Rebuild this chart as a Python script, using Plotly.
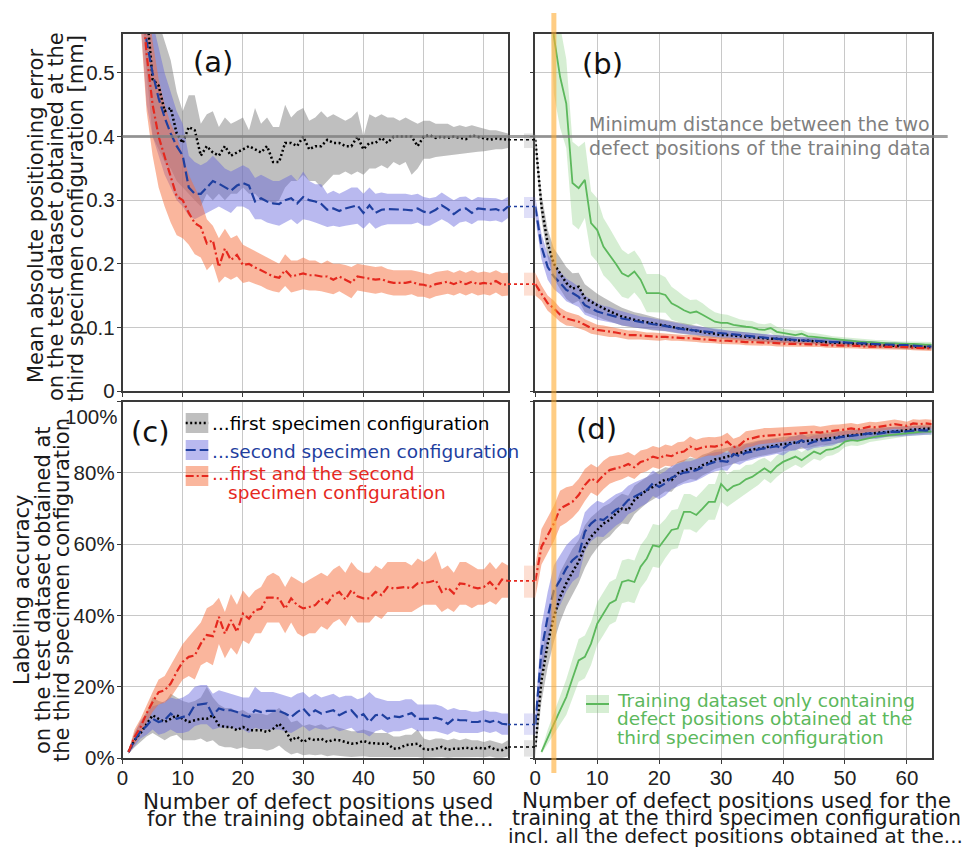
import plotly.graph_objects as go

W, H = 969, 851

# ---------------- data ----------------
N_AC = list(range(1, 65))      # panels (a), (c): defect positions from 1st/2nd configuration
N_BD = list(range(1, 65))      # panels (b), (d): added defect positions of 3rd configuration
MIN_DISTANCE = 0.4             # mm
HIGHLIGHT_N = 3
X_TICKS = [0, 10, 20, 30, 40, 50, 60]
Y_TICKS_A = [0, 0.1, 0.2, 0.3, 0.4, 0.5]
Y_TICKTEXT_A = ["0", "0.1", "0.2", "0.3", "0.4", "0.5"]
Y_TICKS_C = [0, 20, 40, 60, 80, 100]
Y_TICKTEXT_C = ["0%", "20%", "40%", "60%", "80%", ""]

# (a) mean absolute positioning error [mm]
A_FIRST = [1.00, 0.85, 0.70, 0.60, 0.49, 0.48, 0.44, 0.445, 0.405, 0.39,
           0.415, 0.41, 0.37, 0.385, 0.375, 0.37, 0.385, 0.37, 0.375, 0.38,
           0.385, 0.38, 0.375, 0.385, 0.36, 0.36, 0.39, 0.39, 0.385, 0.40,
           0.38, 0.385, 0.385, 0.395, 0.39, 0.39, 0.385, 0.385, 0.40, 0.38,
           0.39, 0.39, 0.398, 0.39, 0.40, 0.40, 0.40, 0.40, 0.385, 0.40,
           0.402, 0.398, 0.40, 0.398, 0.40, 0.398, 0.396, 0.402, 0.40, 0.398,
           0.395, 0.397, 0.396, 0.395]
A_FIRST_UP = [1.10, 0.95, 0.80, 0.70, 0.62, 0.58, 0.55, 0.52, 0.47, 0.44,
              0.465, 0.465, 0.42, 0.435, 0.44, 0.415, 0.43, 0.42, 0.425, 0.43,
              0.41, 0.445, 0.42, 0.43, 0.415, 0.415, 0.45, 0.43, 0.44, 0.445,
              0.425, 0.43, 0.44, 0.43, 0.435, 0.43, 0.425, 0.43, 0.44, 0.40,
              0.435, 0.43, 0.435, 0.43, 0.43, 0.425, 0.43, 0.425, 0.42, 0.425,
              0.425, 0.42, 0.42, 0.42, 0.415, 0.418, 0.415, 0.418, 0.415, 0.412,
              0.41, 0.41, 0.408, 0.405]
A_FIRST_LO = [0.90, 0.75, 0.60, 0.50, 0.40, 0.38, 0.36, 0.35, 0.33, 0.32,
              0.31, 0.30, 0.29, 0.31, 0.30, 0.31, 0.30, 0.31, 0.31, 0.32,
              0.31, 0.31, 0.30, 0.30, 0.295, 0.30, 0.32, 0.33, 0.33, 0.34,
              0.33, 0.33, 0.32, 0.33, 0.34, 0.34, 0.345, 0.34, 0.345, 0.34,
              0.35, 0.35, 0.355, 0.35, 0.36, 0.355, 0.36, 0.34, 0.35, 0.365,
              0.365, 0.368, 0.37, 0.37, 0.372, 0.373, 0.374, 0.375, 0.376, 0.377,
              0.378, 0.38, 0.38, 0.382]
A_SECOND = [0.95, 0.80, 0.66, 0.55, 0.50, 0.46, 0.43, 0.405, 0.385, 0.37,
            0.32, 0.31, 0.31, 0.32, 0.33, 0.326, 0.32, 0.315, 0.323, 0.327,
            0.323, 0.298, 0.303, 0.298, 0.295, 0.294, 0.30, 0.303, 0.295, 0.305,
            0.30, 0.298, 0.294, 0.285, 0.287, 0.283, 0.287, 0.29, 0.292, 0.28,
            0.292, 0.28, 0.285, 0.286, 0.286, 0.286, 0.285, 0.284, 0.287, 0.282,
            0.28, 0.285, 0.292, 0.286, 0.278, 0.285, 0.287, 0.28, 0.287, 0.286,
            0.285, 0.286, 0.282, 0.29]
A_SECOND_UP = [1.05, 0.90, 0.76, 0.65, 0.58, 0.54, 0.50, 0.47, 0.44, 0.42,
               0.37, 0.36, 0.355, 0.36, 0.37, 0.36, 0.35, 0.345, 0.35, 0.355,
               0.35, 0.335, 0.34, 0.335, 0.33, 0.33, 0.335, 0.34, 0.33, 0.345,
               0.33, 0.325, 0.325, 0.31, 0.315, 0.31, 0.315, 0.32, 0.32, 0.31,
               0.32, 0.31, 0.312, 0.31, 0.31, 0.31, 0.31, 0.308, 0.31, 0.305,
               0.303, 0.305, 0.312, 0.306, 0.30, 0.305, 0.306, 0.30, 0.305, 0.304,
               0.303, 0.303, 0.30, 0.305]
A_SECOND_LO = [0.85, 0.70, 0.56, 0.45, 0.40, 0.37, 0.34, 0.32, 0.30, 0.29,
               0.275, 0.27, 0.275, 0.28, 0.285, 0.29, 0.285, 0.28, 0.29, 0.29,
               0.285, 0.27, 0.27, 0.265, 0.262, 0.26, 0.265, 0.27, 0.262, 0.27,
               0.268, 0.265, 0.262, 0.258, 0.26, 0.258, 0.26, 0.262, 0.263, 0.255,
               0.265, 0.255, 0.26, 0.262, 0.262, 0.263, 0.262, 0.262, 0.265, 0.26,
               0.26, 0.265, 0.27, 0.265, 0.258, 0.265, 0.267, 0.262, 0.268, 0.268,
               0.267, 0.268, 0.265, 0.272]
A_BOTH = [0.95, 0.80, 0.65, 0.53, 0.45, 0.40, 0.37, 0.337, 0.306, 0.30,
          0.28, 0.264, 0.258, 0.232, 0.237, 0.195, 0.224, 0.206, 0.214, 0.198,
          0.20, 0.194, 0.19, 0.185, 0.18, 0.178, 0.19, 0.18, 0.182, 0.185,
          0.182, 0.182, 0.18, 0.18, 0.175, 0.18, 0.175, 0.17, 0.18, 0.178,
          0.177, 0.175, 0.176, 0.172, 0.17, 0.17, 0.17, 0.172, 0.168, 0.167,
          0.164, 0.168, 0.17, 0.172, 0.168, 0.172, 0.168, 0.172, 0.168, 0.17,
          0.168, 0.173, 0.167, 0.168]
A_BOTH_UP = [1.05, 0.90, 0.75, 0.63, 0.55, 0.49, 0.45, 0.42, 0.40, 0.37,
             0.34, 0.32, 0.30, 0.27, 0.26, 0.24, 0.255, 0.24, 0.245, 0.23,
             0.225, 0.22, 0.215, 0.21, 0.205, 0.20, 0.215, 0.205, 0.205, 0.21,
             0.205, 0.205, 0.20, 0.205, 0.20, 0.20, 0.198, 0.195, 0.20, 0.198,
             0.197, 0.195, 0.196, 0.192, 0.19, 0.19, 0.19, 0.19, 0.188, 0.186,
             0.183, 0.187, 0.188, 0.19, 0.186, 0.19, 0.186, 0.19, 0.186, 0.188,
             0.186, 0.19, 0.185, 0.186]
A_BOTH_LO = [0.85, 0.70, 0.55, 0.44, 0.37, 0.32, 0.29, 0.265, 0.245, 0.24,
             0.23, 0.215, 0.21, 0.19, 0.20, 0.17, 0.18, 0.175, 0.18, 0.17,
             0.172, 0.168, 0.165, 0.16, 0.157, 0.155, 0.165, 0.155, 0.158, 0.16,
             0.158, 0.158, 0.157, 0.155, 0.152, 0.157, 0.152, 0.146, 0.158, 0.156,
             0.155, 0.153, 0.155, 0.152, 0.15, 0.15, 0.15, 0.152, 0.148, 0.148,
             0.145, 0.149, 0.151, 0.153, 0.15, 0.154, 0.15, 0.154, 0.15, 0.152,
             0.15, 0.155, 0.149, 0.15]

# (b) positioning error with added third-configuration positions [mm]
B_FIRST = [0.29, 0.232, 0.20, 0.185, 0.17, 0.161, 0.164, 0.146, 0.14, 0.135,
           0.13, 0.125, 0.121, 0.117, 0.114, 0.112, 0.11, 0.108, 0.106, 0.104,
           0.103, 0.101, 0.099, 0.098, 0.096, 0.095, 0.093, 0.091, 0.09, 0.088,
           0.088, 0.087, 0.086, 0.085, 0.084, 0.084, 0.083, 0.082, 0.082, 0.081,
           0.08, 0.08, 0.079, 0.079, 0.078, 0.078, 0.077, 0.076, 0.076, 0.075,
           0.075, 0.074, 0.074, 0.073, 0.072, 0.072, 0.071, 0.071, 0.07, 0.07,
           0.07, 0.069, 0.069, 0.069]
B_FIRST_STD = [0.020, 0.022, 0.024, 0.025, 0.025, 0.024, 0.022, 0.022, 0.020, 0.018,
               0.017, 0.016, 0.015, 0.014, 0.013, 0.012, 0.012, 0.011, 0.011, 0.010,
               0.009, 0.009, 0.009, 0.008, 0.008, 0.008, 0.008, 0.008, 0.007, 0.007,
               0.007, 0.007, 0.007, 0.006, 0.006, 0.006, 0.006, 0.006, 0.006, 0.006,
               0.005, 0.005, 0.005, 0.005, 0.005, 0.005, 0.005, 0.005, 0.005, 0.005,
               0.005, 0.005, 0.005, 0.005, 0.005, 0.004, 0.004, 0.004, 0.004, 0.004,
               0.004, 0.004, 0.004, 0.004]
B_SECOND = [0.227, 0.195, 0.18, 0.17, 0.159, 0.154, 0.148, 0.135, 0.13, 0.125,
            0.122, 0.12, 0.117, 0.114, 0.112, 0.11, 0.108, 0.107, 0.105, 0.104,
            0.102, 0.101, 0.099, 0.097, 0.096, 0.095, 0.094, 0.092, 0.091, 0.09,
            0.089, 0.088, 0.087, 0.086, 0.085, 0.084, 0.084, 0.083, 0.082, 0.081,
            0.081, 0.08, 0.08, 0.079, 0.079, 0.078, 0.078, 0.077, 0.077, 0.076,
            0.076, 0.075, 0.075, 0.074, 0.074, 0.073, 0.073, 0.072, 0.072, 0.072,
            0.071, 0.071, 0.07, 0.07]
B_SECOND_STD = [0.020, 0.020, 0.020, 0.018, 0.018, 0.017, 0.016, 0.015, 0.014, 0.013,
                0.012, 0.012, 0.011, 0.011, 0.010, 0.010, 0.009, 0.009, 0.009, 0.008,
                0.008, 0.008, 0.008, 0.008, 0.007, 0.007, 0.007, 0.007, 0.007, 0.007,
                0.006, 0.006, 0.006, 0.006, 0.006, 0.006, 0.006, 0.006, 0.005, 0.005,
                0.005, 0.005, 0.005, 0.005, 0.005, 0.005, 0.005, 0.005, 0.005, 0.005,
                0.005, 0.004, 0.004, 0.004, 0.004, 0.004, 0.004, 0.004, 0.004, 0.004,
                0.004, 0.004, 0.004, 0.004]
B_BOTH = [0.154, 0.138, 0.13, 0.12, 0.114, 0.112, 0.109, 0.104, 0.099, 0.096,
          0.095, 0.093, 0.092, 0.09, 0.088, 0.088, 0.087, 0.086, 0.086, 0.085,
          0.085, 0.084, 0.084, 0.083, 0.083, 0.082, 0.081, 0.08, 0.08, 0.079,
          0.079, 0.078, 0.078, 0.077, 0.077, 0.076, 0.076, 0.076, 0.075, 0.075,
          0.074, 0.074, 0.074, 0.073, 0.073, 0.073, 0.072, 0.072, 0.072, 0.071,
          0.071, 0.071, 0.07, 0.07, 0.07, 0.07, 0.069, 0.069, 0.069, 0.069,
          0.068, 0.068, 0.067, 0.067]
B_BOTH_STD = [0.012, 0.012, 0.012, 0.011, 0.011, 0.010, 0.010, 0.009, 0.009, 0.008,
              0.008, 0.008, 0.007, 0.007, 0.007, 0.007, 0.006, 0.006, 0.006, 0.006,
              0.005, 0.005, 0.005, 0.005, 0.005, 0.005, 0.005, 0.005, 0.005, 0.005,
              0.005, 0.005, 0.005, 0.005, 0.005, 0.005, 0.005, 0.005, 0.005, 0.005,
              0.004, 0.004, 0.004, 0.004, 0.004, 0.004, 0.004, 0.004, 0.004, 0.004,
              0.004, 0.004, 0.004, 0.004, 0.004, 0.004, 0.004, 0.004, 0.004, 0.004,
              0.004, 0.004, 0.004, 0.004]
B_THIRD = [1.00, 0.75, 0.557, 0.494, 0.452, 0.327, 0.319, 0.332, 0.264, 0.253,
           0.227, 0.214, 0.20, 0.185, 0.18, 0.188, 0.175, 0.154, 0.154, 0.154,
           0.151, 0.138, 0.133, 0.127, 0.123, 0.125, 0.12, 0.114, 0.109, 0.107,
           0.107, 0.104, 0.102, 0.101, 0.10, 0.097, 0.096, 0.099, 0.093, 0.091,
           0.089, 0.088, 0.09, 0.086, 0.085, 0.084, 0.083, 0.081, 0.08, 0.079,
           0.078, 0.078, 0.077, 0.077, 0.076, 0.076, 0.075, 0.075, 0.074, 0.074,
           0.074, 0.073, 0.073, 0.073]
B_THIRD_STD = [0.10, 0.10, 0.09, 0.08, 0.07, 0.065, 0.065, 0.06, 0.05, 0.05,
               0.045, 0.042, 0.04, 0.037, 0.035, 0.033, 0.032, 0.03, 0.03, 0.03,
               0.028, 0.026, 0.024, 0.022, 0.02, 0.019, 0.018, 0.016, 0.015, 0.014,
               0.013, 0.012, 0.011, 0.010, 0.010, 0.009, 0.009, 0.008, 0.008, 0.007,
               0.007, 0.007, 0.006, 0.006, 0.006, 0.006, 0.005, 0.005, 0.005, 0.005,
               0.005, 0.005, 0.005, 0.004, 0.004, 0.004, 0.004, 0.004, 0.004, 0.004,
               0.004, 0.004, 0.004, 0.004]

# (c) labeling accuracy [%]
C_FIRST = [1.7, 5, 7, 9.5, 12, 11, 10.1, 11, 12, 11,
           10.1, 10.6, 11, 11, 12, 9.2, 8.7, 8.7, 7.8, 8.7,
           7.8, 7.8, 7.8, 7.3, 8.2, 9.6, 7.8, 5, 5.9, 4.5,
           5.4, 5, 5.4, 4.5, 5.1, 5, 4.5, 4, 4.2, 4.8,
           4.2, 4, 4, 4, 2.6, 2.8, 3.6, 3.8, 4, 2.6,
           2.3, 2.6, 3.1, 2.3, 2.6, 2.6, 2.9, 2.6, 2.9, 2.6,
           3.1, 2.3, 2.2, 3.1]
C_FIRST_UP = [2.2, 7, 10, 13, 17, 16, 15.5, 18, 17, 16,
              15.5, 16, 17, 20, 17, 15, 14, 14, 13, 13.5,
              12.5, 12.5, 12.5, 12, 13, 14, 12.5, 10, 10.5, 9,
              9.5, 9, 9.5, 8.5, 9, 8.5, 8, 7.5, 7.5, 8,
              7.5, 7, 7, 7, 6, 6, 6.5, 6.5, 8, 5.5,
              5, 5.5, 5.5, 5, 5.5, 5, 5.5, 5, 5, 4.5,
              5, 4.5, 4, 5]
C_FIRST_LO = [1.2, 3, 4.5, 6, 7, 6, 5, 6, 6.5, 5,
              5, 5, 5.5, 4.5, 5, 3.5, 3, 3, 2.5, 3,
              2.5, 2.5, 2.5, 2, 2.5, 3.5, 2, 1, 1.5, 0.8,
              1, 0.8, 1, 0.5, 0.8, 0.6, 0.4, 0.3, 0.3, 0.5,
              0.3, 0.2, 0.2, 0.2, 0.1, 0.1, 0.3, 0.3, 0.3, 0.1,
              0.1, 0.2, 0.3, 0.1, 0.2, 0.2, 0.3, 0.2, 0.3, 0.2,
              0.4, 0.1, 0.1, 0.4]
C_SECOND = [1.7, 5, 7.5, 9, 11, 10.1, 10.6, 12.5, 11, 11.5,
            12, 14.8, 15.1, 15.3, 12, 13.9, 13.4, 13.4, 12.9, 12,
            11.5, 13.4, 12.9, 13.2, 13.2, 13.2, 12.5, 11.5, 12.9, 13.9,
            12, 13.4, 12.5, 12.9, 13.4, 12, 12.9, 13.4, 11.5, 12.3,
            10.1, 12, 12.3, 11, 11.7, 11.5, 12, 12.6, 11, 11,
            11, 11.3, 10.8, 9.6, 11, 10.6, 10.6, 10.1, 10.1, 10.6,
            10.1, 10.6, 9.6, 9.4]
C_SECOND_UP = [2.2, 7, 10.5, 12.5, 14.5, 15, 16, 17, 16.5, 17,
               18, 20, 20.5, 20.5, 18, 19, 18.5, 18, 17.5, 17,
               17, 20, 18.5, 18.5, 18.5, 18, 17.5, 17, 18, 18.5,
               17, 18, 17, 17.5, 18, 17, 17.5, 17.5, 16.5, 17,
               18.5, 17, 16.5, 16, 16, 16, 16.5, 16.5, 15, 15,
               15, 15, 14.5, 13.5, 14, 13.5, 13.5, 13, 13, 13.5,
               13, 13, 12.5, 12.5]
C_SECOND_LO = [1.2, 3.5, 5.5, 6.5, 8, 6.5, 7, 8, 7, 7,
               7.5, 9, 9.5, 9.5, 8, 8.5, 8.5, 8.5, 8, 8,
               7, 8.5, 8, 8, 8, 8, 7.5, 7, 8, 9,
               7.5, 8.5, 8, 8, 8.5, 7.5, 8, 8.5, 7, 7,
               6, 7.5, 8, 7, 7.5, 7.5, 8, 8.5, 7.5, 7.5,
               7.5, 7.5, 7, 6.5, 7.5, 7, 7, 7, 7, 7.5,
               7, 7.5, 6.5, 6.5]
C_BOTH = [1.7, 5.9, 8.7, 12.5, 15.7, 18.5, 19, 20.9, 24.2, 27,
          28.4, 28.8, 32.1, 34.5, 34.2, 39.6, 34.9, 38.7, 35.4, 40.5,
          39.1, 41.5, 41.9, 45, 45, 44.8, 41.9, 44.8, 42.9, 42,
          42.4, 42.9, 44.8, 43.4, 45.7, 46.6, 44.5, 47.1, 45.4, 44.8,
          44.8, 46.6, 45.7, 48, 47.6, 47.8, 48, 47.6, 49, 49.2,
          49.4, 49.9, 46.6, 47.8, 46.2, 49, 48.8, 48, 47.6, 48,
          49.4, 47.6, 50.1, 49.7]
C_BOTH_UP = [2.2, 8, 11, 15, 18.5, 22, 23, 26, 29, 32,
             34, 36, 38, 42, 43, 45, 41, 46, 43, 47,
             45, 47, 48, 51, 52, 51, 48, 51, 50, 49,
             50, 51, 52, 51, 53, 54, 52, 55, 53, 52,
             52, 54, 53, 55, 55, 55, 55, 54, 56, 55,
             56, 58, 53, 54, 52, 55, 55, 54, 53, 53,
             55, 53, 55, 54]
C_BOTH_LO = [1.2, 4, 6.5, 10, 13, 15, 15.5, 17, 19.5, 22,
             23, 22, 26, 27, 26, 32, 28, 31, 29, 33,
             32, 35, 35, 38, 38, 38, 35, 38, 35, 34,
             35, 35, 37, 36, 38, 39, 37, 40, 38, 38,
             38, 40, 39, 41, 41, 41, 41, 41, 42, 43,
             43, 43, 41, 42, 41, 43, 43, 42, 43, 43,
             44, 43, 45, 45]

# (d) labeling accuracy with added third-configuration positions [%]
D_FIRST = [21.8, 32.1, 39.6, 45.2, 49, 52.2, 55.1, 59.3, 62.1, 64,
           65.8, 66.8, 68.6, 70, 69.6, 72.4, 73.8, 75.2, 76.1, 77.1,
           78.2, 78, 79.9, 80.6, 81.3, 81, 82.2, 82.9, 83.8, 84.1,
           84.6, 85, 85.7, 86, 86.6, 86.8, 87.2, 87.5, 87.8, 88.1,
           88.3, 88.5, 88.7, 88.9, 89.2, 89.4, 89.6, 89.8, 90.1, 90.4,
           90.6, 90.8, 90.9, 91.1, 91.3, 91.4, 91.5, 91.7, 91.8, 92,
           92.1, 92.3, 92.4, 92.5]
D_FIRST_STD = [6, 6.5, 7, 7, 6.5, 6.5, 6, 6, 5.5, 5,
               4.8, 4.6, 4.4, 4.2, 4, 4, 3.8, 3.7, 3.6, 3.5,
               3.4, 3.3, 3.2, 3.1, 3, 3, 2.9, 2.8, 2.7, 2.6,
               2.5, 2.5, 2.4, 2.4, 2.3, 2.3, 2.2, 2.2, 2.1, 2,
               2, 2, 1.9, 1.9, 1.8, 1.8, 1.7, 1.7, 1.6, 1.5,
               1.5, 1.5, 1.5, 1.4, 1.4, 1.4, 1.3, 1.3, 1.3, 1.3,
               1.2, 1.2, 1.2, 1.2]
D_SECOND = [30.2, 39.6, 47.1, 49.9, 53.2, 55.5, 56.9, 63.5, 65.8, 67.2,
            66.8, 68.2, 69.6, 70.5, 72.4, 73.3, 74.3, 75.2, 77.1, 76.1,
            77.1, 78.7, 79.4, 80.1, 80.3, 80.8, 81.6, 82.5, 83.1, 83.4,
            83.1, 85.3, 84.7, 85.7, 86, 86.6, 86.9, 87.2, 87.5, 86.9,
            88.1, 88.3, 89.2, 88.1, 88.8, 89, 89.2, 89.4, 90, 90.2,
            90.4, 90.6, 90.9, 91.1, 90.9, 91.3, 91.5, 91.6, 91.5, 91.7,
            91.9, 92, 91.9, 92]
D_SECOND_STD = [7, 7, 7, 7, 6.5, 6, 6, 5.5, 5, 5,
                4.8, 4.6, 4.4, 4.2, 4, 4, 3.8, 3.7, 3.6, 3.5,
                3.4, 3.3, 3.2, 3.1, 3, 3, 2.9, 2.8, 2.7, 2.6,
                2.5, 2.5, 2.4, 2.4, 2.3, 2.3, 2.2, 2.2, 2.1, 2,
                2, 2, 1.9, 1.9, 1.8, 1.8, 1.7, 1.7, 1.6, 1.5,
                1.5, 1.5, 1.5, 1.4, 1.4, 1.4, 1.3, 1.3, 1.3, 1.3,
                1.2, 1.2, 1.2, 1.2]
D_BOTH = [59.3, 62.5, 65.8, 70, 71, 71.9, 73.8, 76.6, 78.5, 77.5,
          79.4, 80.8, 81.3, 81.7, 82.5, 81.6, 83.1, 83.6, 84.6, 84.1,
          85, 84.7, 85.7, 86, 87.4, 86.6, 87.2, 87.5, 87.4, 87.8,
          88.8, 87.2, 87.8, 89.4, 89.7, 90.2, 90.4, 90.5, 90.6, 90.8,
          90.9, 91.1, 91.1, 91.3, 91.5, 91.3, 91.6, 91.9, 92, 92.2,
          92.5, 92.2, 92.7, 93, 92.8, 93.2, 93.4, 93.7, 93.4, 93.2,
          93.9, 93.7, 93.9, 93.7]
D_BOTH_STD = [5, 5, 5, 5, 5, 4.5, 4.5, 4.5, 4, 4,
              4, 3.8, 3.6, 3.5, 3.4, 3.3, 3.2, 3.1, 3, 3,
              3, 2.9, 2.9, 2.8, 2.8, 2.7, 2.7, 2.6, 2.6, 2.5,
              2.5, 2.4, 2.4, 2.3, 2.3, 2.2, 2.2, 2.1, 2.1, 2,
              2, 1.9, 1.9, 1.8, 1.8, 1.7, 1.7, 1.6, 1.6, 1.5,
              1.5, 1.5, 1.4, 1.4, 1.4, 1.3, 1.3, 1.3, 1.3, 1.2,
              1.2, 1.2, 1.2, 1.2]
D_THIRD = [1.7, 5.9, 9.6, 13.4, 17.1, 22.3, 27.4, 28.4, 32.1, 37.7,
           40.5, 43.4, 44.3, 49.4, 49.9, 49.4, 53.7, 56, 59.7, 59.3,
           61.6, 64, 64.4, 69.1, 69.1, 68.2, 70, 71.9, 71.9, 76.9,
           75, 76.3, 76.9, 78.2, 78.9, 80.1, 81.3, 80.1, 81.9, 83.1,
           83.8, 84.6, 83.6, 84.7, 86, 85.3, 86.5, 86.7, 87.4, 88.8,
           89.2, 89, 89.4, 90, 90.2, 90.4, 90.6, 90.8, 91.1, 91.3,
           91.3, 91.6, 91.7, 91.6]
D_THIRD_STD = [0.5, 2, 3, 4, 5, 5.5, 6, 6, 6, 6,
               6, 6, 6, 6, 6, 6, 6, 6, 6, 6,
               5.5, 5.5, 5.5, 5, 5, 5, 5, 5, 5, 5,
               4.5, 4.5, 4, 4, 3.5, 3.5, 3, 3, 3, 2.8,
               2.4, 2.3, 2.2, 2.1, 2, 1.9, 1.8, 1.7, 1.6, 1.5,
               1.5, 1.4, 1.4, 1.3, 1.3, 1.2, 1.2, 1.1, 1.1, 1,
               1, 1, 1, 1]

# ---------------- styles ----------------
TICKFONT = "Liberation Sans, Arial, Helvetica, sans-serif"
TEXTFONT = "DejaVu Sans, Verdana, sans-serif"
STY = {
    "first":  dict(line="#000000", band="rgba(128,128,128,0.5)", dash="2px,2.5px", width=2.5,
                   text="#000000"),
    "second": dict(line="#1f3f9f", band="rgba(100,100,220,0.45)", dash="10px,4px", width=2.2,
                   text="#1f3f9f"),
    "both":   dict(line="#e5281e", band="rgba(245,110,60,0.5)", dash="8px,3px,2px,3px", width=2.2,
                   text="#e5281e"),
    "third":  dict(line="#5cb85c", band="rgba(120,200,110,0.3)", dash="solid", width=1.8,
                   text="#5cb85c"),
}


def pxx(x):
    return x / W


def pyy(y):
    return 1 - y / H


XA_DOM = [pxx(122.5), pxx(508)]
XB_DOM = [pxx(535.3), pxx(931.7)]
YT_DOM = [pyy(391), pyy(34)]
YB_DOM = [pyy(758), pyy(401.7)]

fig = go.Figure()


def add_band(x, lo, up, key, xa, ya):
    fig.add_trace(go.Scatter(
        x=list(x) + list(x)[::-1], y=list(up) + list(lo)[::-1],
        fill="toself", fillcolor=STY[key]["band"], line=dict(width=0),
        mode="lines", hoverinfo="skip", showlegend=False, xaxis=xa, yaxis=ya))


def add_line(x, y, key, xa, ya):
    s = STY[key]
    fig.add_trace(go.Scatter(
        x=x, y=y, mode="lines", line=dict(color=s["line"], width=s["width"], dash=s["dash"]),
        showlegend=False, xaxis=xa, yaxis=ya))


left = {
    ("x", "y"): [("first", A_FIRST, A_FIRST_LO, A_FIRST_UP),
                 ("second", A_SECOND, A_SECOND_LO, A_SECOND_UP),
                 ("both", A_BOTH, A_BOTH_LO, A_BOTH_UP)],
    ("x3", "y3"): [("first", C_FIRST, C_FIRST_LO, C_FIRST_UP),
                   ("second", C_SECOND, C_SECOND_LO, C_SECOND_UP),
                   ("both", C_BOTH, C_BOTH_LO, C_BOTH_UP)],
}
right = {
    ("x2", "y2", "y"): [("first", B_FIRST, B_FIRST_STD), ("second", B_SECOND, B_SECOND_STD),
                        ("both", B_BOTH, B_BOTH_STD)],
    ("x4", "y4", "y3"): [("first", D_FIRST, D_FIRST_STD), ("second", D_SECOND, D_SECOND_STD),
                         ("both", D_BOTH, D_BOTH_STD)],
}
green = {("x2", "y2"): (B_THIRD, B_THIRD_STD), ("x4", "y4"): (D_THIRD, D_THIRD_STD)}

shapes = []
# bands first
for (xa, ya), series in left.items():
    for key, m, lo, up in series:
        add_band(N_AC, lo, up, key, xa, ya)
for (xa, ya), (m, sd) in green.items():
    add_band(N_BD, [a - b for a, b in zip(m, sd)], [a + b for a, b in zip(m, sd)], "third", xa, ya)
for (xa, ya, yl), series in right.items():
    lseries = left[("x" if yl == "y" else "x3", yl)]
    for (key, m, sd), (_, lm, llo, lup) in zip(series, lseries):
        xs = [0] + N_BD
        lo = [llo[-1]] + [a - b for a, b in zip(m, sd)]
        up = [lup[-1]] + [a + b for a, b in zip(m, sd)]
        add_band(xs, lo, up, key, xa, ya)
# lines
for (xa, ya), series in left.items():
    for key, m, lo, up in series:
        add_line(N_AC, m, key, xa, ya)
for (xa, ya), (m, sd) in green.items():
    add_line(N_BD, m, "third", xa, ya)
for (xa, ya, yl), series in right.items():
    lseries = left[("x" if yl == "y" else "x3", yl)]
    for (key, m, sd), (_, lm, llo, lup) in zip(series, lseries):
        add_line([0] + N_BD, [lm[-1]] + m, key, xa, ya)
    # connectors in the gap between the panels
    for key, lm, llo, lup in lseries:
        shapes.append(dict(type="rect", xref="paper", yref=yl, x0=pxx(524), x1=pxx(535.3),
                           y0=llo[-1], y1=lup[-1], fillcolor=STY[key]["band"], opacity=0.45,
                           line=dict(width=0), layer="above"))
        shapes.append(dict(type="line", xref="paper", yref=yl, x0=pxx(508), x1=pxx(535.3),
                           y0=lm[-1], y1=lm[-1], line=dict(color=STY[key]["line"], width=1.6, dash="dot"),
                           layer="above"))

# minimum distance line and highlighted position
shapes.append(dict(type="line", xref="paper", yref="y", x0=pxx(122.5), x1=pxx(947.7),
                   y0=MIN_DISTANCE, y1=MIN_DISTANCE, line=dict(color="rgba(128,128,128,0.75)", width=3),
                   layer="above"))
shapes.append(dict(type="line", xref="x2", yref="paper", x0=HIGHLIGHT_N, x1=HIGHLIGHT_N,
                   y0=pyy(773), y1=pyy(13), line=dict(color="rgba(255,172,50,0.6)", width=5),
                   layer="above"))

# legend (c)
leg_rows = [("first", 413, 433), ("second", 440, 460), ("both", 466, 486)]
for key, y0, y1 in leg_rows:
    s = STY[key]
    shapes.append(dict(type="rect", xref="paper", yref="paper", x0=pxx(185.7), x1=pxx(208.3),
                       y0=pyy(y1), y1=pyy(y0), fillcolor=s["band"], line=dict(width=0)))
    shapes.append(dict(type="line", xref="paper", yref="paper", x0=pxx(185.7), x1=pxx(208.3),
                       y0=pyy((y0 + y1) / 2), y1=pyy((y0 + y1) / 2),
                       line=dict(color=s["line"], width=s["width"], dash=s["dash"])))
# legend (d)
shapes.append(dict(type="rect", xref="paper", yref="paper", x0=pxx(586), x1=pxx(609),
                   y0=pyy(713), y1=pyy(695), fillcolor=STY["third"]["band"], line=dict(width=0)))
shapes.append(dict(type="line", xref="paper", yref="paper", x0=pxx(586), x1=pxx(609),
                   y0=pyy(704), y1=pyy(704), line=dict(color=STY["third"]["line"], width=2)))

ann = []


def text(t, x, y, size, color="#1a1a1a", xanchor="center", angle=0, family=TEXTFONT):
    ann.append(dict(text=t, x=pxx(x), y=pyy(y), xref="paper", yref="paper", showarrow=False,
                    xanchor=xanchor, yanchor="middle", textangle=angle, borderpad=0,
                    font=dict(family=family, size=size, color=color)))


text("(a)", 213, 62, 29, "#111")
text("(b)", 602, 64, 29, "#111")
text("(c)", 150, 432, 29, "#111")
text("(d)", 596, 429, 29, "#111")
text("Minimum distance between the two", 588, 124, 19, "#7f7f7f", "left")
text("defect positions of the training data", 588, 148, 19, "#7f7f7f", "left")

text("...first specimen configuration", 211, 423, 18.5, STY["first"]["text"], "left")
text("...second specimen configuration", 211, 451, 18.5, STY["second"]["text"], "left")
text("...first and the second", 211, 473, 18.5, STY["both"]["text"], "left")
text("specimen configuration", 227, 492, 18.5, STY["both"]["text"], "left")

text("Training dataset only containing", 616, 700, 18.5, STY["third"]["text"], "left")
text("defect positions obtained at the", 616, 718, 18.5, STY["third"]["text"], "left")
text("third specimen configuration", 616, 737, 18.5, STY["third"]["text"], "left")

text("100%", 118, 416, 20.5, "#222", "right", family=TICKFONT)

text("Mean absolute positioning error", 36, 216, 21, angle=-90)
text("on the test dataset obtained at the", 56, 217, 21, angle=-90)
text("third specimen configuration [mm]", 76, 219, 21, angle=-90)
text("Labeling accuracy", 22, 590, 21, angle=-90)
text("on the test dataset obtained at", 43, 590, 21, angle=-90)
text("the third specimen configuration", 62, 590, 21, angle=-90)

text("Number of defect positions used", 318, 801, 21.5)
text("for the training obtained at the...", 320, 819, 21)
text("Number of defect positions used for the", 736, 800, 21.5)
text("training at the third specimen configuration", 736, 818, 20.5)
text("incl. all the defect positions obtained at the...", 735, 836, 20)

axis_common = dict(showline=True, linecolor="#3a3a3a", linewidth=1.5, mirror=True,
                   ticks="outside", ticklen=4, tickcolor="#3a3a3a", tickwidth=1,
                   showgrid=True, gridcolor="#c8c8c8", gridwidth=1, zeroline=False,
                   automargin=False, tickfont=dict(family=TICKFONT, size=20.5, color="#222"))

fig.update_layout(
    width=W, height=H, margin=dict(l=0, r=0, t=0, b=0), template="none",
    paper_bgcolor="white", plot_bgcolor="white", showlegend=False,
    xaxis=dict(domain=XA_DOM, range=[0, 64], tickvals=X_TICKS, showticklabels=False, anchor="y", **axis_common),
    yaxis=dict(domain=YT_DOM, range=[0, 0.5613], tickvals=Y_TICKS_A, ticktext=Y_TICKTEXT_A, anchor="x",
               ticklabelstandoff=-2, **axis_common),
    xaxis2=dict(domain=XB_DOM, range=[0, 64], tickvals=X_TICKS, showticklabels=False, anchor="y2", **axis_common),
    yaxis2=dict(domain=YT_DOM, range=[0, 0.5613], tickvals=Y_TICKS_A, showticklabels=False, anchor="x2", **axis_common),
    xaxis3=dict(domain=XA_DOM, range=[0, 64], tickvals=X_TICKS, anchor="y3", ticklabelstandoff=-3, **axis_common),
    yaxis3=dict(domain=YB_DOM, range=[0, 100], tickvals=Y_TICKS_C, ticktext=Y_TICKTEXT_C, anchor="x3",
                ticklabelstandoff=-2, **axis_common),
    xaxis4=dict(domain=XB_DOM, range=[0, 64], tickvals=X_TICKS, anchor="y4", ticklabelstandoff=-3, **axis_common),
    yaxis4=dict(domain=YB_DOM, range=[0, 100], tickvals=Y_TICKS_C, showticklabels=False, anchor="x4", **axis_common),
    shapes=shapes, annotations=ann,
)

fig.write_html("out.html", config={"displayModeBar": False},
               post_script="document.body.style.margin='0px'; document.body.style.overflow='hidden';")
